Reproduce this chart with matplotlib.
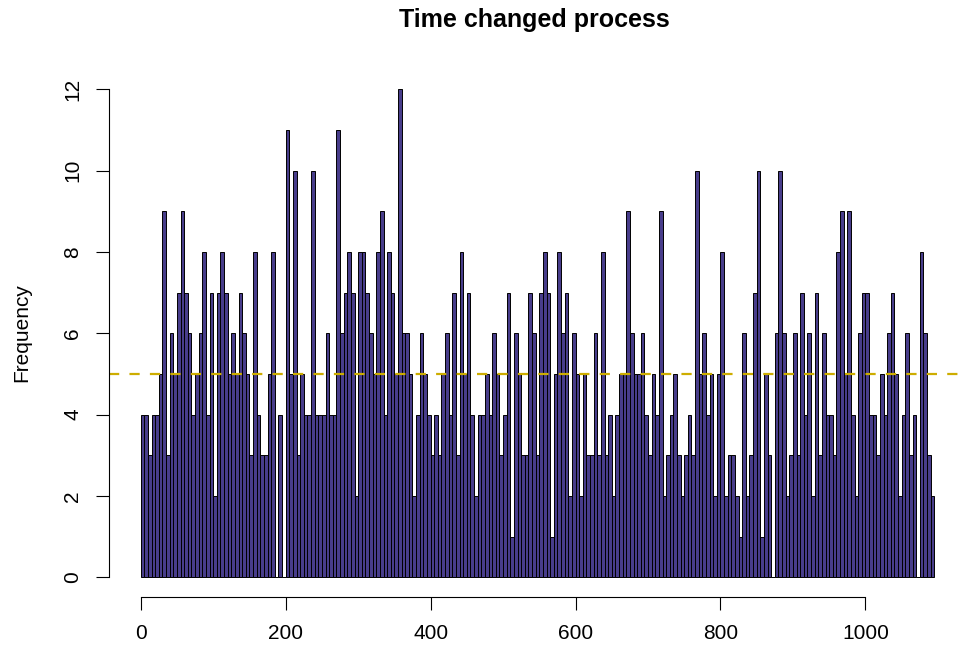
import numpy as np
import matplotlib
matplotlib.use("Agg")
import matplotlib.pyplot as plt

plt.rcParams['font.family'] = ['Liberation Sans', 'DejaVu Sans']

title = "Time changed process"
ylabel = "Frequency"
bin_width = 5
counts = [
    4, 4, 3, 4, 4, 5, 9, 3, 6, 5, 7, 9, 7, 6, 4, 5, 6, 8, 4, 7, 2, 7, 8, 7, 5, 6, 5,
    7, 6, 5, 3, 8, 4, 3, 3, 5, 8, 0, 4, 0, 11, 5, 10, 3, 5, 4, 4, 10, 4, 4, 4, 6, 4, 4, 11,
    6, 7, 8, 7, 2, 8, 8, 7, 6, 5, 8, 9, 4, 8, 7, 5, 12, 6, 6, 5, 2, 4, 6, 5, 4, 3, 4, 3,
    5, 6, 4, 7, 3, 8, 5, 7, 4, 2, 4, 4, 5, 4, 6, 5, 3, 4, 7, 1, 6, 5, 3, 3, 7, 6, 3, 7,
    8, 7, 1, 5, 8, 6, 7, 2, 6, 5, 2, 5, 3, 3, 6, 3, 8, 3, 4, 2, 4, 5, 5, 9, 6, 5, 5,
    6, 4, 3, 5, 4, 9, 2, 3, 4, 5, 3, 2, 3, 4, 3, 10, 5, 6, 4, 5, 2, 5, 8, 2, 3, 3, 2, 1,
    6, 2, 3, 7, 10, 1, 5, 3, 0, 6, 10, 6, 2, 3, 6, 3, 7, 4, 6, 2, 7, 3, 6, 4, 4, 3, 8, 9,
    5, 9, 4, 2, 6, 7, 7, 4, 4, 3, 5, 4, 6, 7, 5, 2, 4, 6, 3, 4, 0, 8, 6, 3, 2,
]
ref_level = 5
x_ticks = [0, 200, 400, 600, 800, 1000]
y_ticks = [0, 2, 4, 6, 8, 10, 12]

breaks = np.arange(len(counts) + 1) * bin_width

W, H = 964, 649
fig = plt.figure(figsize=(W / 100, H / 100), dpi=100)
left, right, top, bottom = 109, 966, 69.8, 596.8
ax = fig.add_axes([left / W, (H - bottom) / H, (right - left) / W, (bottom - top) / H])

ax.bar(breaks[:-1], counts, width=bin_width, align='edge',
       color='#483D8B', edgecolor='black', linewidth=0.7)

xr = breaks[-1] - breaks[0]
ax.set_xlim(breaks[0] - 0.04 * xr, breaks[-1] + 0.04 * xr)
ymax = max(y_ticks)
ax.set_ylim(-0.04 * ymax, ymax * 1.04)

ax.axhline(ref_level, color='#CDAD00', lw=1.6, linestyle=(0, (4.6, 4.6)), clip_on=False)

for s in ['top', 'right']:
    ax.spines[s].set_visible(False)
ax.spines['left'].set_bounds(y_ticks[0], y_ticks[-1])
ax.spines['bottom'].set_bounds(x_ticks[0], x_ticks[-1])
for s in ['left', 'bottom']:
    ax.spines[s].set_linewidth(0.8)
    ax.spines[s].set_color('black')

ax.set_xticks(x_ticks)
ax.set_yticks(y_ticks)
ax.set_xticklabels([str(v) for v in x_ticks])
ax.set_yticklabels([str(v) for v in y_ticks], rotation=90, va='center')
ax.tick_params(axis='both', direction='out', length=9.4, width=0.8, labelsize=15, pad=10)

fig.text(21.5 / W, 1 - 333 / H, ylabel, rotation=90, ha='center', va='center', fontsize=15)
fig.text(534 / W, 1 - 20 / H, title, ha='center', va='center', fontsize=18, fontweight='bold')

fig.savefig("out.png", dpi=100)
